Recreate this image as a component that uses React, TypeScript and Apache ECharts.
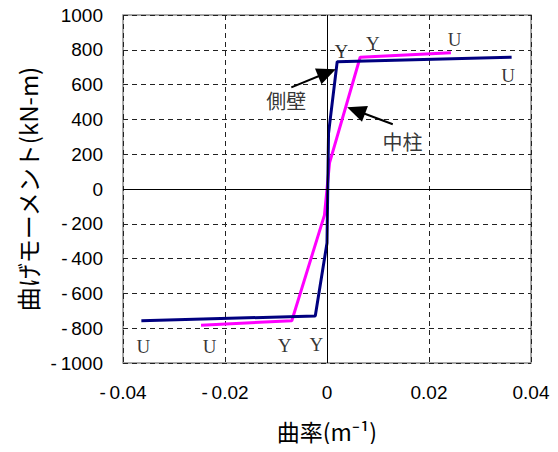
import React, { useEffect, useRef } from "react";
import * as echarts from "echarts";

const xTicks = { min: -0.04, max: 0.04, interval: 0.02 };
const yTicks = { min: -1000, max: 1000, interval: 200 };

// 側壁 (side wall) curvature-moment curve
const sideWall: [number, number][] = [
  [-0.0364, -757],
  [-0.0023, -730],
  [0, -310],
  [0.0003, 320],
  [0.002, 732],
  [0.0362, 757],
];

// 中柱 (center column) curvature-moment curve
const centerColumn: [number, number][] = [
  [-0.0247, -783],
  [-0.0069, -757],
  [-0.0005, -150],
  [0.0005, 150],
  [0.0065, 757],
  [0.0243, 783],
];

// Y / U point labels (text, x, y)
const pointLabelText = ["Y", "Y", "U", "U", "U", "U", "Y", "Y"];
const pointLabelPos: [number, number][] = [
  [0.0028, 789],
  [0.009, 837],
  [0.025, 860],
  [0.0355, 655],
  [-0.036, -906],
  [-0.023, -906],
  [-0.0083, -900],
  [-0.0021, -891],
];

// annotations: text, text position, arrow start, arrow head centre
const annotationText = ["側壁", "中柱"];
const annotationPos: [number, number][] = [
  [-0.008, 511],
  [0.0148, 272],
];
const arrowStart: [number, number][] = [
  [-0.007, 584],
  [0.0129, 372],
];
const arrowTip: [number, number][] = [
  [0.0, 668],
  [0.0057, 451],
];

const fmtNum = (v: number, digits: number) => {
  const s = String(+Math.abs(v).toFixed(digits));
  return v < 0 ? "-\u2009" + s : s;
};

export default function App() {
  const ref = useRef<HTMLDivElement>(null);
  useEffect(() => {
    if (!ref.current) return;
    const chart = echarts.init(ref.current, undefined, { renderer: "svg" });
    const sansFont = "'Liberation Sans', Arial, sans-serif";
    const cjkFont = "'Noto Sans CJK JP', sans-serif";
    chart.setOption({
      animation: false,
      backgroundColor: "#ffffff",
      grid: {
        left: 123,
        right: 27,
        top: 15,
        bottom: 89,
        show: true,
        borderColor: "#8c8c8c",
        borderWidth: 1.5,
      },
      xAxis: {
        type: "value",
        min: xTicks.min,
        max: xTicks.max,
        interval: xTicks.interval,
        name: "曲率(m⁻¹)",
        nameLocation: "middle",
        nameGap: 56,
        nameTextStyle: { fontFamily: cjkFont, fontSize: 23, color: "#000" },
        axisLine: { show: false, onZero: false },
        axisTick: { show: false },
        axisLabel: {
          margin: 20,
          fontFamily: sansFont,
          fontSize: 19,
          color: "#000",
          formatter: (v: number) => fmtNum(v, 2),
        },
        splitLine: {
          show: true,
          lineStyle: { type: [5, 4], color: "#222", width: 1 },
        },
      },
      yAxis: {
        type: "value",
        min: yTicks.min,
        max: yTicks.max,
        interval: yTicks.interval,
        name: "曲げモーメント(kN-m)",
        nameLocation: "middle",
        nameGap: 84,
        nameTextStyle: { fontFamily: cjkFont, fontSize: 24, color: "#000" },
        axisLine: { show: false, onZero: false },
        axisTick: { show: false },
        axisLabel: {
          margin: 20,
          fontFamily: sansFont,
          fontSize: 19,
          color: "#000",
          formatter: (v: number) => fmtNum(v, 0),
        },
        splitLine: {
          show: true,
          lineStyle: { type: [5, 4], color: "#222", width: 1 },
        },
      },
      series: [
        {
          type: "line",
          name: "zero",
          data: [],
          markLine: {
            silent: true,
            symbol: "none",
            label: { show: false },
            lineStyle: { type: "solid", color: "#000", width: 1 },
            data: [{ xAxis: 0 }, { yAxis: 0 }],
          },
        },
        {
          type: "line",
          name: "中柱",
          data: centerColumn,
          showSymbol: false,
          symbol: "none",
          lineStyle: { color: "#ff00ff", width: 3 },
          z: 3,
        },
        {
          type: "line",
          name: "側壁",
          data: sideWall,
          showSymbol: false,
          symbol: "none",
          lineStyle: { color: "#000080", width: 3 },
          z: 4,
          markLine: {
            silent: true,
            symbol: ["none", "triangle"],
            symbolSize: [17, 19],
            label: { show: false },
            lineStyle: { type: "solid", color: "#000", width: 2 },
            data: arrowStart.map((s, i) => [
              { coord: s },
              { coord: arrowTip[i] },
            ]),
          },
        },
        {
          type: "scatter",
          name: "pointLabels",
          symbolSize: 0,
          data: pointLabelPos.map((p, i) => ({ value: p, name: pointLabelText[i] })),
          label: {
            show: true,
            position: "inside",
            formatter: (p: any) => p.name,
            fontFamily: "'Liberation Serif', 'Times New Roman', serif",
            fontSize: 19,
            color: "#000",
          },
          z: 5,
        },
        {
          type: "scatter",
          name: "annotations",
          symbolSize: 0,
          data: annotationPos.map((p, i) => ({ value: p, name: annotationText[i] })),
          label: {
            show: true,
            position: "inside",
            formatter: (p: any) => p.name,
            fontFamily: cjkFont,
            fontSize: 20,
            color: "#000",
          },
          z: 5,
        },
      ],
    });
    return () => chart.dispose();
  }, []);
  return <div ref={ref} style={{ width: 558, height: 452, margin: -8 }} />;
}
